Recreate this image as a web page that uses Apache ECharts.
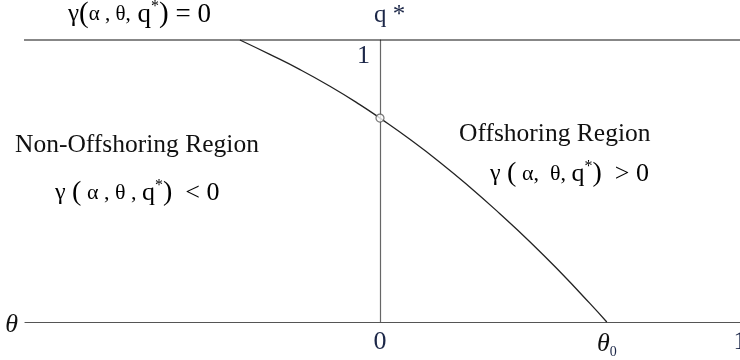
<!DOCTYPE html>
<html>
<head>
<meta charset="utf-8">
<script src="https://cdn.jsdelivr.net/npm/echarts@6/dist/echarts.min.js"></script>
<style>
  html, body { margin: 0; padding: 0; background: #fff; }
  #chart { width: 740px; height: 360px; }
</style>
</head>
<body>
<div id="chart"></div>
<script>
// Cutoff curve gamma(alpha, theta, q*) = 0 in the (theta, q*) plane
const thetaValues = [-0.389, -0.306, -0.222, -0.139, -0.056, 0, 0.083, 0.167, 0.25, 0.333, 0.417, 0.5, 0.583, 0.63];
const qValues     = [1.0, 0.949, 0.895, 0.836, 0.771, 0.723, 0.648, 0.566, 0.478, 0.384, 0.284, 0.178, 0.066, 0];

// Intercepts of the curve
const theta0 = 0.63;        // curve meets q* = 0
const qAtZero = 0.723;      // curve crosses theta = 0

// Axis ticks
const xTickValues = [0, theta0, 1];
const yTickValues = [1];

// Horizontal boundary q* = 1
const topLineTheta = [-1.0055, 1];
const topLineQ = [1, 1];

const curve = thetaValues.map((t, i) => [t, qValues[i]]);
const topLine = topLineTheta.map((t, i) => [t, topLineQ[i]]);

const serif = "'Liberation Serif', 'DejaVu Serif', serif";
const mathColor = '#1c2748';

// Rich-text styles for the gamma(...) expressions
const mathRich = (size, greekDrop) => ({
  g: { fontFamily: serif, fontSize: size - 2, color: mathColor },
  p: { fontFamily: serif, fontSize: size + 2, color: mathColor },
  a: { fontFamily: serif, fontSize: size - greekDrop, color: mathColor },
  t: { fontFamily: serif, fontSize: size, color: mathColor },
  s: { fontFamily: serif, fontSize: Math.round(size * 0.6), color: mathColor, padding: [0, 0, Math.round(size * 0.55), 0] }
});

const chart = echarts.init(document.getElementById('chart'), null, { renderer: 'canvas' });

chart.setOption({
  animation: false,
  backgroundColor: '#fff',
  grid: { left: 25, right: 0, top: 40, bottom: 38, containLabel: false, outerBoundsMode: 'none' },
  xAxis: {
    type: 'value',
    min: -0.986,
    max: 1,
    name: 'θ',
    nameLocation: 'start',
    nameGap: 7,
    nameTextStyle: { fontFamily: serif, fontStyle: 'italic', fontSize: 26, color: '#111', verticalAlign: 'top', lineHeight: 6 },
    axisLine: { show: true, onZero: false, lineStyle: { color: '#555', width: 1.2 } },
    axisTick: { show: false },
    splitLine: { show: false },
    axisLabel: {
      customValues: xTickValues,
      margin: 7,
      fontFamily: serif,
      fontSize: 26,
      color: mathColor,
      formatter: (v) => (v === theta0 ? '{th|θ}{sub|0}' : String(v)),
      rich: {
        th: { fontFamily: serif, fontStyle: 'italic', fontSize: 26, color: '#111' },
        sub: { fontFamily: serif, fontSize: 14, color: mathColor, padding: [16, 0, 0, 0] }
      }
    }
  },
  yAxis: {
    type: 'value',
    min: 0,
    max: 1,
    // the q* axis stands at theta = 0
    offset: -355,
    name: 'q *',
    nameLocation: 'end',
    nameGap: 12,
    nameTextStyle: { fontFamily: serif, fontSize: 25, color: mathColor, align: 'left', padding: [0, 0, 0, -6] },
    axisLine: { show: true, onZero: false, lineStyle: { color: '#666', width: 1.2 } },
    axisTick: { show: false },
    splitLine: { show: false },
    axisLabel: {
      customValues: yTickValues,
      margin: 10,
      verticalAlign: 'top',
      padding: [3, 0, 0, 0],
      fontFamily: serif,
      fontSize: 26,
      color: mathColor,
      formatter: (v) => String(v)
    }
  },
  series: [
    {
      type: 'line',
      data: topLine,
      clip: false,
      symbol: 'none',
      silent: true,
      lineStyle: { color: '#111', width: 1.2 }
    },
    {
      type: 'line',
      data: curve,
      smooth: true,
      clip: false,
      symbol: 'none',
      silent: true,
      lineStyle: { color: '#222', width: 1.3 }
    },
    {
      type: 'scatter',
      data: [[0, qAtZero]],
      symbol: 'circle',
      symbolSize: 8,
      silent: true,
      z: 5,
      itemStyle: { color: '#fff', borderColor: '#555', borderWidth: 1.2 }
    }
  ],
  graphic: [
    {
      type: 'text', left: 68, top: -1,
      style: {
        text: '{g|γ}{p|(}{a|α , θ,}{t| q}{s|*}{p|)}{t| = 0}',
        rich: mathRich(27, 6)
      }
    },
    {
      type: 'text', left: 15, top: 132,
      style: { text: 'Non-Offshoring Region', fontFamily: serif, fontSize: 25.5, fill: '#111' }
    },
    {
      type: 'text', left: 55, top: 178,
      style: {
        text: '{g|γ}{t| }{p|(}{a| α , θ , }{t|q}{s|*}{p|)}{t|  < 0}',
        rich: mathRich(26, 4)
      }
    },
    {
      type: 'text', left: 490, top: 159,
      style: {
        text: '{g|γ}{t| }{p|(}{a| α,  θ, }{t|q}{s|*}{p|)}{t|  > 0}',
        rich: mathRich(26, 4)
      }
    },
    {
      type: 'text', left: 459, top: 121,
      style: { text: 'Offshoring Region', fontFamily: serif, fontSize: 25.5, fill: '#111' }
    }
  ]
});
</script>
</body>
</html>
